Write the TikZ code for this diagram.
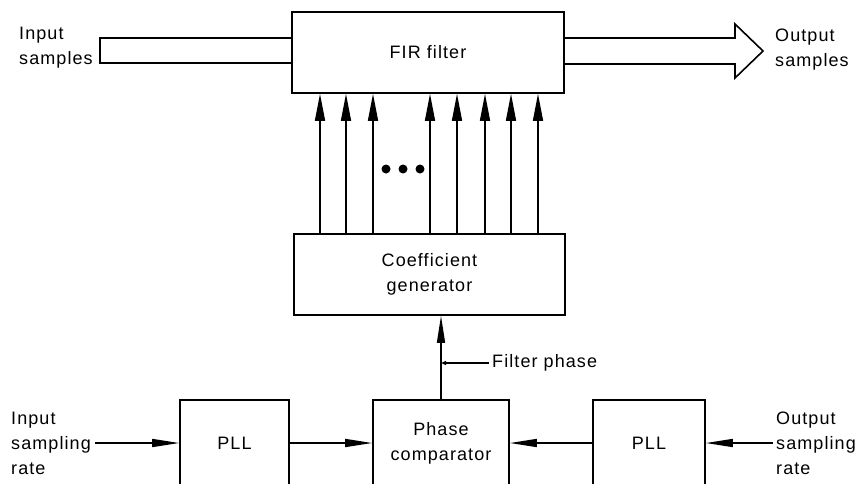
\documentclass[tikz,border=0pt]{standalone}
\usepackage{fontspec}
\setmainfont{Liberation Sans}[LetterSpace=6]
\usetikzlibrary{arrows.meta}
\begin{document}
\begin{tikzpicture}[x=1pt,y=-1pt,font=\fontsize{18}{25}\selectfont,
  box/.style={draw,line width=1.6pt,inner sep=0pt,align=center},
  arr/.style={line width=1.5pt,-{Triangle[length=27pt,width=8pt]}},
  tap/.style={line width=1.5pt,-{Triangle[length=27pt,width=10pt]}},
  lbl/.style={align=left,inner sep=0pt}]
\clip (0,0) rectangle (864,483);
% blocks
\node[box,minimum width=272pt,minimum height=81pt] (fir) at (428,52.5) {FIR filter};
\node[box,minimum width=271pt,minimum height=81pt] (coef) at (429.5,274.5) {Coefficient\\generator};
\node[box,minimum width=109pt,minimum height=86pt] (pll1) at (234.5,443) {PLL};
\node[box,minimum width=136pt,minimum height=86pt] (pc) at (441,443) {Phase\\comparator};
\node[box,minimum width=112pt,minimum height=86pt] (pll2) at (649,443) {PLL};
% labels
\node[lbl,anchor=west] (ins) at (19,48) {Input\\samples};
\node[lbl,anchor=west] (outs) at (775,50) {Output\\samples};
\node[lbl,anchor=east] (isr) at (91,443) {Input\\sampling\\rate};
\node[lbl,anchor=west] (osr) at (776,443) {Output\\sampling\\rate};
\node[lbl,anchor=west] (fpl) at (492,363) {Filter phase};
\coordinate (fpj) at (441,363);
% input band
\draw[line width=1.6pt] (fir.west |- 0,38) -- (100,38) -- (100,63) -- (fir.west |- 0,63);
% output arrow
\draw[line width=1.6pt] (fir.east |- 0,38) -- (735,38) -- (735,24) -- (763,51)
  -- (735,78) -- (735,64) -- (fir.east |- 0,64);
% coefficient taps
\foreach \xx in {320,346,373,430,457,485,511,538}
  \draw[tap] (\xx,0 |- coef.north) -- (\xx,0 |- fir.south);
\foreach \xx in {386,403,420}
  \fill (\xx,169) circle (4.5pt);
% phase path
\draw[arr] (pc.north) -- (pc.north |- coef.south);
\draw[line width=1.2pt,-{Triangle[length=5pt,width=4pt]}] ([xshift=-3pt]fpl.west) -- (fpj);
% bottom connectors
\draw[arr] ([xshift=4pt]isr.east) -- (pll1.west);
\draw[arr] (pll1.east) -- (pc.west);
\draw[arr] (pll2.west) -- (pc.east);
\draw[arr] ([xshift=-3pt]osr.west) -- (pll2.east);
\end{tikzpicture}
\end{document}
